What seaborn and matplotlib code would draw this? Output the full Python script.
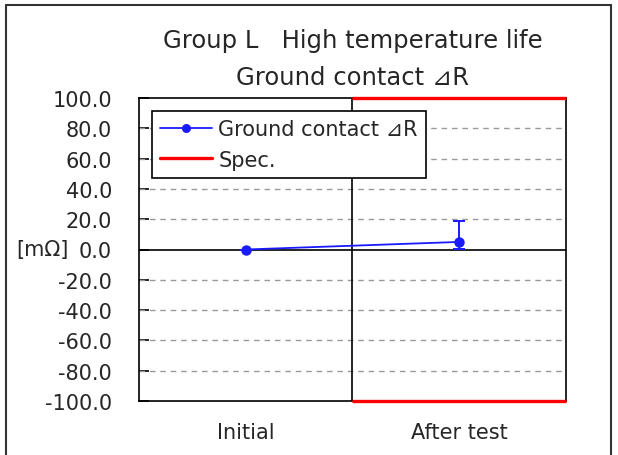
import numpy as np
import pandas as pd
import seaborn as sns
import matplotlib
matplotlib.use("Agg")
import matplotlib.pyplot as plt
from matplotlib.lines import Line2D

# ---- data ----
categories = ["Initial", "After test"]
mean_values = [0.0, 5.0]
min_values = [0.0, 0.5]
max_values = [0.0, 18.5]
spec_upper = 100.0
spec_lower = -100.0
spec_category = "After test"
yticks = [-100, -80, -60, -40, -20, 0, 20, 40, 60, 80, 100]
title_line1 = "Group L   High temperature life"
title_line2 = "Ground contact ⊿R"
series_label = "Ground contact ⊿R"
spec_label = "Spec."
unit_label = "[mΩ]"

sns.set_theme(style="white")
plt.rcParams["font.family"] = ["DejaVu Sans", "Noto Sans CJK JP"]
FS = 15
TXT = "#262626"
BLUE = "#1a1aff"

fig = plt.figure(figsize=(6.18, 4.56), dpi=100)
ax = fig.add_axes([139 / 618, 1 - 402 / 456, 427 / 618, 303 / 456])

df = pd.DataFrame({"cat": categories, "val": mean_values})
sns.lineplot(data=df, x="cat", y="val", ax=ax, color=BLUE, marker="o",
             markersize=7.5, markeredgewidth=0, linewidth=1.3, zorder=5)
xpos = np.arange(len(categories))
lower_err = np.array(mean_values) - np.array(min_values)
upper_err = np.array(max_values) - np.array(mean_values)
ax.errorbar(xpos, mean_values, yerr=[lower_err, upper_err], fmt="none",
            ecolor=BLUE, elinewidth=1.4, capsize=4, capthick=1.4, zorder=5)

# spec lines on the after-test region
si = categories.index(spec_category)
for sv in (spec_upper, spec_lower):
    ax.hlines(sv, si - 0.5, si + 0.5, colors="#ff0000", linewidth=2.4, zorder=6,
              clip_on=False)

# gridlines
for t in yticks:
    if t == 0:
        ax.axhline(0, color="black", linewidth=1.2, zorder=2)
    elif abs(t) != 100:
        ax.axhline(t, color="#999999", linewidth=1.0, linestyle=(0, (4, 3.5)), zorder=1)
ax.axvline(0.5, color="black", linewidth=1.2, zorder=2)

ax.set_xlim(-0.5, len(categories) - 0.5)
ax.set_ylim(spec_lower, spec_upper)
ax.set_yticks(yticks)
ax.set_yticklabels([f"{t:.1f}" for t in yticks], fontsize=FS, color=TXT)
ax.set_xticks(xpos)
ax.set_xticklabels(categories, fontsize=FS, color=TXT)
ax.tick_params(axis="y", direction="in", length=7, width=1.2, color="black",
               pad=19.5, left=True)
ax.tick_params(axis="x", length=0, pad=15)
ax.set_xlabel("")
ax.set_ylabel("")
for s in ax.spines.values():
    s.set_color("black")
    s.set_linewidth(1.2)

ax.text((42 - 139) / 427, 0, unit_label, transform=ax.get_yaxis_transform(),
        ha="center", va="center", fontsize=FS, color=TXT)

handles = [
    Line2D([], [], color=BLUE, marker="o", markersize=6.5, linewidth=1.3,
           markeredgewidth=0),
    Line2D([], [], color="#ff0000", linewidth=2.4),
]
leg = ax.legend(handles, [series_label, spec_label], loc="upper left",
                bbox_to_anchor=(0.03, 0.957), fontsize=FS, frameon=True,
                fancybox=False, framealpha=1, edgecolor="black",
                borderpad=0.4, labelspacing=0.5, handlelength=2.5,
                handletextpad=0.3, borderaxespad=0)
leg.get_frame().set_linewidth(1.2)
leg.set_zorder(10)
for t in leg.get_texts():
    t.set_color(TXT)

fig.text(352.5 / 618, 1 - 41 / 456, title_line1, ha="center", va="center",
         fontsize=17.5, color=TXT)
fig.text(352.5 / 618, 1 - 78 / 456, title_line2, ha="center", va="center",
         fontsize=17.5, color=TXT)

# outer frame (left, top, right)
W, H = 618, 456
for xs, ys in [([6, 6], [0, 450]), ([6, 611], [450, 450]), ([611, 611], [450, 0])]:
    fig.add_artist(Line2D([x / W for x in xs], [y / H for y in ys],
                          transform=fig.transFigure, color="#333333",
                          linewidth=1.5))

fig.savefig("out.png", dpi=100)
